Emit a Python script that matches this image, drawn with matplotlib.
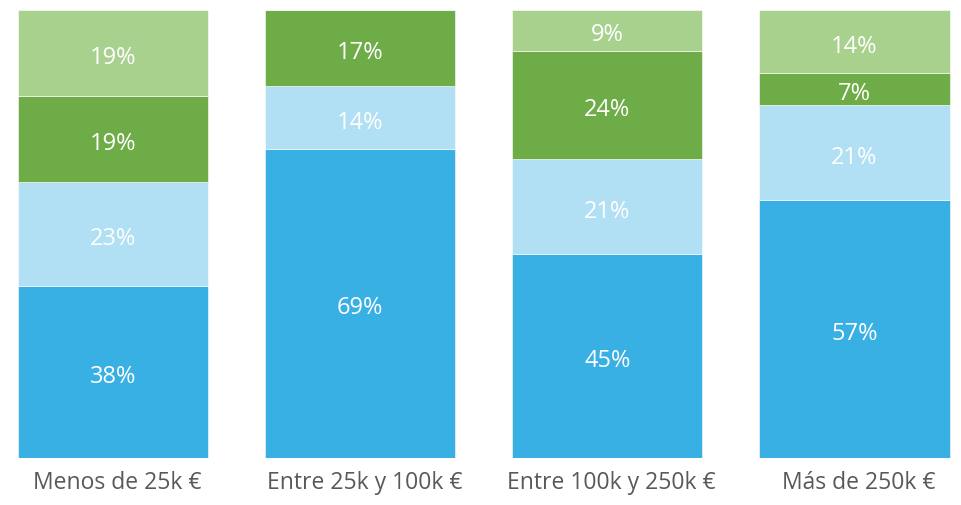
import numpy as np
import matplotlib.pyplot as plt
import matplotlib.transforms as mtransforms

plt.rcParams['font.family'] = ['Open Sans', 'DejaVu Sans']

# Datos (porcentajes por tramo)
categorias = ['Menos de 25k €', 'Entre 25k y 100k €', 'Entre 100k y 250k €', 'Más de 250k €']
serie_1 = [38, 69, 45, 57]
serie_2 = [23, 14, 21, 21]
serie_3 = [19, 17, 24, 7]
serie_4 = [19, 0, 9, 14]

series = [serie_1, serie_2, serie_3, serie_4]
colores = ['#38B0E4', '#B1DFF3', '#6EAC47', '#A9D18E']

datos = np.array(series, dtype=float)
totales = datos.sum(axis=0)
norm = datos / totales * 100

fig = plt.figure(figsize=(9.62, 5.05), dpi=100)
ax = fig.add_axes([0.0, 0.093, 1.0, 0.887])

# pequeño desplazamiento de las etiquetas de valor hacia abajo
desp = mtransforms.ScaledTranslation(0, -2 / 100, fig.dpi_scale_trans)

x = np.arange(len(categorias))
bottom = np.zeros(len(categorias))
for i in range(len(series)):
    ax.bar(x, norm[i], bottom=bottom, width=0.769, color=colores[i],
           edgecolor='white', linewidth=0.4)
    for j in range(len(categorias)):
        if datos[i][j] > 0:
            ax.text(x[j], bottom[j] + norm[i][j] / 2, f'{int(datos[i][j])}%',
                    ha='center', va='center_baseline', color='white', fontsize=17,
                    transform=ax.transData + desp)
    bottom += norm[i]

ax.set_xlim(-0.457, 3.435)
ax.set_ylim(0, 100)
ax.set_xticks(x)
ax.set_xticklabels(categorias, fontsize=16.5, color='#595959')
ax.tick_params(axis='x', length=0, pad=9)
ax.set_yticks([])
for s in ax.spines.values():
    s.set_visible(False)

# las etiquetas del eje aparecen algo desplazadas a la derecha
offset = mtransforms.ScaledTranslation(4.5 / 100, 0, fig.dpi_scale_trans)
for lbl in ax.get_xticklabels():
    lbl.set_transform(lbl.get_transform() + offset)

plt.savefig('out.png', dpi=100)
